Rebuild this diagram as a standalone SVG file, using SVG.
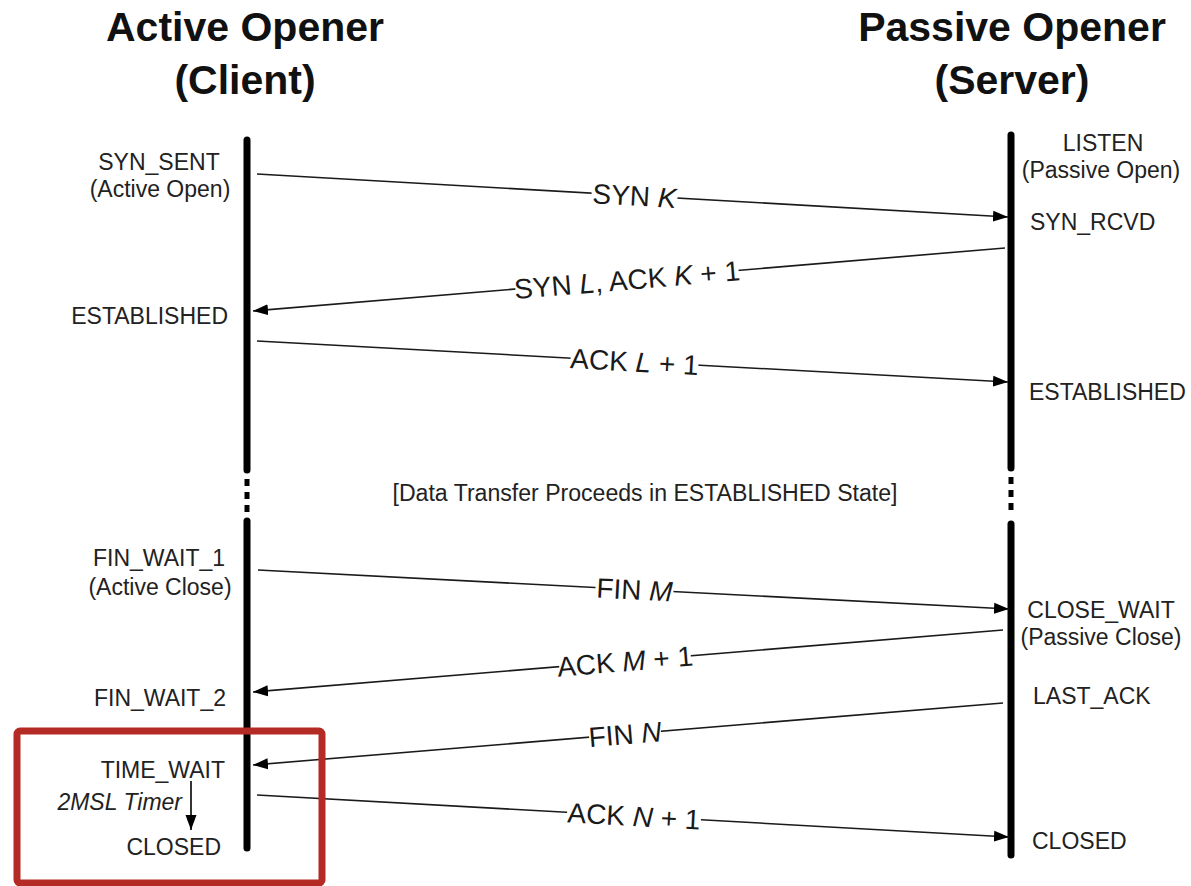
<svg xmlns="http://www.w3.org/2000/svg" width="1191" height="886" viewBox="0 0 1191 886">
  <style>
    .title { font-family: "Liberation Sans", Arial, sans-serif; font-weight: bold; font-size: 41px; fill: #111; text-anchor: middle; }
    .state { font-family: "Liberation Sans", Arial, sans-serif; font-size: 23px; fill: #222; }
    .end { text-anchor: end; }
    .mid { text-anchor: middle; }
    .msg { font-family: "Liberation Sans", Arial, sans-serif; font-size: 28px; fill: #1a1a1a; text-anchor: middle; }
    .gap { fill: #fff; }
    .it { font-style: italic; }
    .life { stroke: #000; stroke-width: 7; stroke-linecap: round; fill: none; }
    .dots { stroke: #000; stroke-width: 5; fill: none; stroke-dasharray: 7 6; }
    .wire { stroke: #1a1a1a; stroke-width: 1.6; fill: none; marker-end: url(#head); }
  </style>
  <defs>
    <marker id="head" markerUnits="userSpaceOnUse" markerWidth="16" markerHeight="12" refX="15" refY="6" orient="auto">
      <path d="M0,0.5 L15,6 L0,11.5 Z" fill="#000"/>
    </marker>
  </defs>
  <rect width="1191" height="886" fill="#fff"/>

  <!-- column headings -->
  <g id="client-title">
    <text class="title" x="245" y="41">Active Opener</text>
    <text class="title" x="245" y="94">(Client)</text>
  </g>
  <g id="server-title">
    <text class="title" x="1012" y="41">Passive Opener</text>
    <text class="title" x="1012" y="94">(Server)</text>
  </g>

  <!-- lifelines -->
  <g id="client-lifeline">
    <line class="life" x1="247" y1="140" x2="247" y2="470"/>
    <line class="dots" x1="247" y1="479" x2="247" y2="516"/>
    <line class="life" x1="247" y1="521" x2="247" y2="848"/>
  </g>
  <g id="server-lifeline">
    <line class="life" x1="1011" y1="135" x2="1011" y2="468"/>
    <line class="dots" x1="1011" y1="477" x2="1011" y2="516"/>
    <line class="life" x1="1011" y1="524" x2="1011" y2="855"/>
  </g>

  <!-- client states -->
  <g id="client-states">
    <text class="state mid" x="159" y="170">SYN_SENT</text>
    <text class="state mid" x="160" y="197">(Active Open)</text>
    <text class="state end" x="228" y="324">ESTABLISHED</text>
    <text class="state mid" x="159" y="566">FIN_WAIT_1</text>
    <text class="state mid" x="160" y="595">(Active Close)</text>
    <text class="state end" x="226" y="706">FIN_WAIT_2</text>
    <text class="state end" x="225" y="778">TIME_WAIT</text>
    <text class="state end it" x="182" y="810">2MSL Timer</text>
    <text class="state end" x="221" y="855">CLOSED</text>
    <line x1="191" y1="781" x2="191" y2="830" stroke="#000" stroke-width="1.6" marker-end="url(#head)"/>
  </g>

  <!-- server states -->
  <g id="server-states">
    <text class="state mid" x="1103" y="151">LISTEN</text>
    <text class="state mid" x="1101" y="178">(Passive Open)</text>
    <text class="state" x="1030" y="230">SYN_RCVD</text>
    <text class="state" x="1029" y="400">ESTABLISHED</text>
    <text class="state mid" x="1101" y="618">CLOSE_WAIT</text>
    <text class="state mid" x="1101" y="645">(Passive Close)</text>
    <text class="state" x="1033" y="704">LAST_ACK</text>
    <text class="state" x="1032" y="849">CLOSED</text>
  </g>

  <g id="data-note">
    <text class="state mid" x="645" y="501" textLength="505" lengthAdjust="spacingAndGlyphs" font-size="20">[Data Transfer Proceeds in ESTABLISHED State]</text>
  </g>

  <!-- segments exchanged -->
  <g id="connectors">
    <line class="wire" x1="257" y1="174" x2="1008" y2="217"/>
    <line class="wire" x1="1005" y1="248" x2="253" y2="311"/>
    <line class="wire" x1="257" y1="341" x2="1008" y2="382"/>
    <line class="wire" x1="258" y1="570" x2="1009" y2="609"/>
    <line class="wire" x1="1003" y1="630" x2="253" y2="692"/>
    <line class="wire" x1="1003" y1="703" x2="253" y2="765"/>
    <line class="wire" x1="257" y1="795" x2="1009" y2="837"/>

    <g transform="translate(634.5 195.6) rotate(3.28)">
      <rect class="gap" x="-43" y="-10" width="86" height="20"/>
      <text class="msg" y="10">SYN <tspan class="it">K</tspan></text>
    </g>
    <g transform="translate(627 279.7) rotate(-4.79)">
      <rect class="gap" x="-112" y="-10" width="224" height="20"/>
      <text class="msg" y="10">SYN <tspan class="it">L</tspan>, ACK <tspan class="it">K</tspan> + 1</text>
    </g>
    <g transform="translate(634.5 361.6) rotate(3.12)">
      <rect class="gap" x="-64" y="-10" width="128" height="20"/>
      <text class="msg" y="10">ACK <tspan class="it">L</tspan> + 1</text>
    </g>
    <g transform="translate(634.5 589.5) rotate(2.97)">
      <rect class="gap" x="-39" y="-10" width="78" height="20"/>
      <text class="msg" y="10">FIN <tspan class="it">M</tspan></text>
    </g>
    <g transform="translate(625 661.2) rotate(-4.73)">
      <rect class="gap" x="-66" y="-10" width="132" height="20"/>
      <text class="msg" y="10">ACK <tspan class="it">M</tspan> + 1</text>
    </g>
    <g transform="translate(625 734.2) rotate(-4.73)">
      <rect class="gap" x="-36" y="-10" width="72" height="20"/>
      <text class="msg" y="10">FIN <tspan class="it">N</tspan></text>
    </g>
    <g transform="translate(634 816) rotate(3.2)">
      <rect class="gap" x="-67" y="-10" width="134" height="20"/>
      <text class="msg" y="10">ACK <tspan class="it">N</tspan> + 1</text>
    </g>
  </g>

  <!-- highlight around the closing states -->
  <g id="highlight">
    <rect x="17" y="731" width="305" height="152" rx="3" fill="none" stroke="#b32b24" stroke-width="7"/>
  </g>
</svg>
